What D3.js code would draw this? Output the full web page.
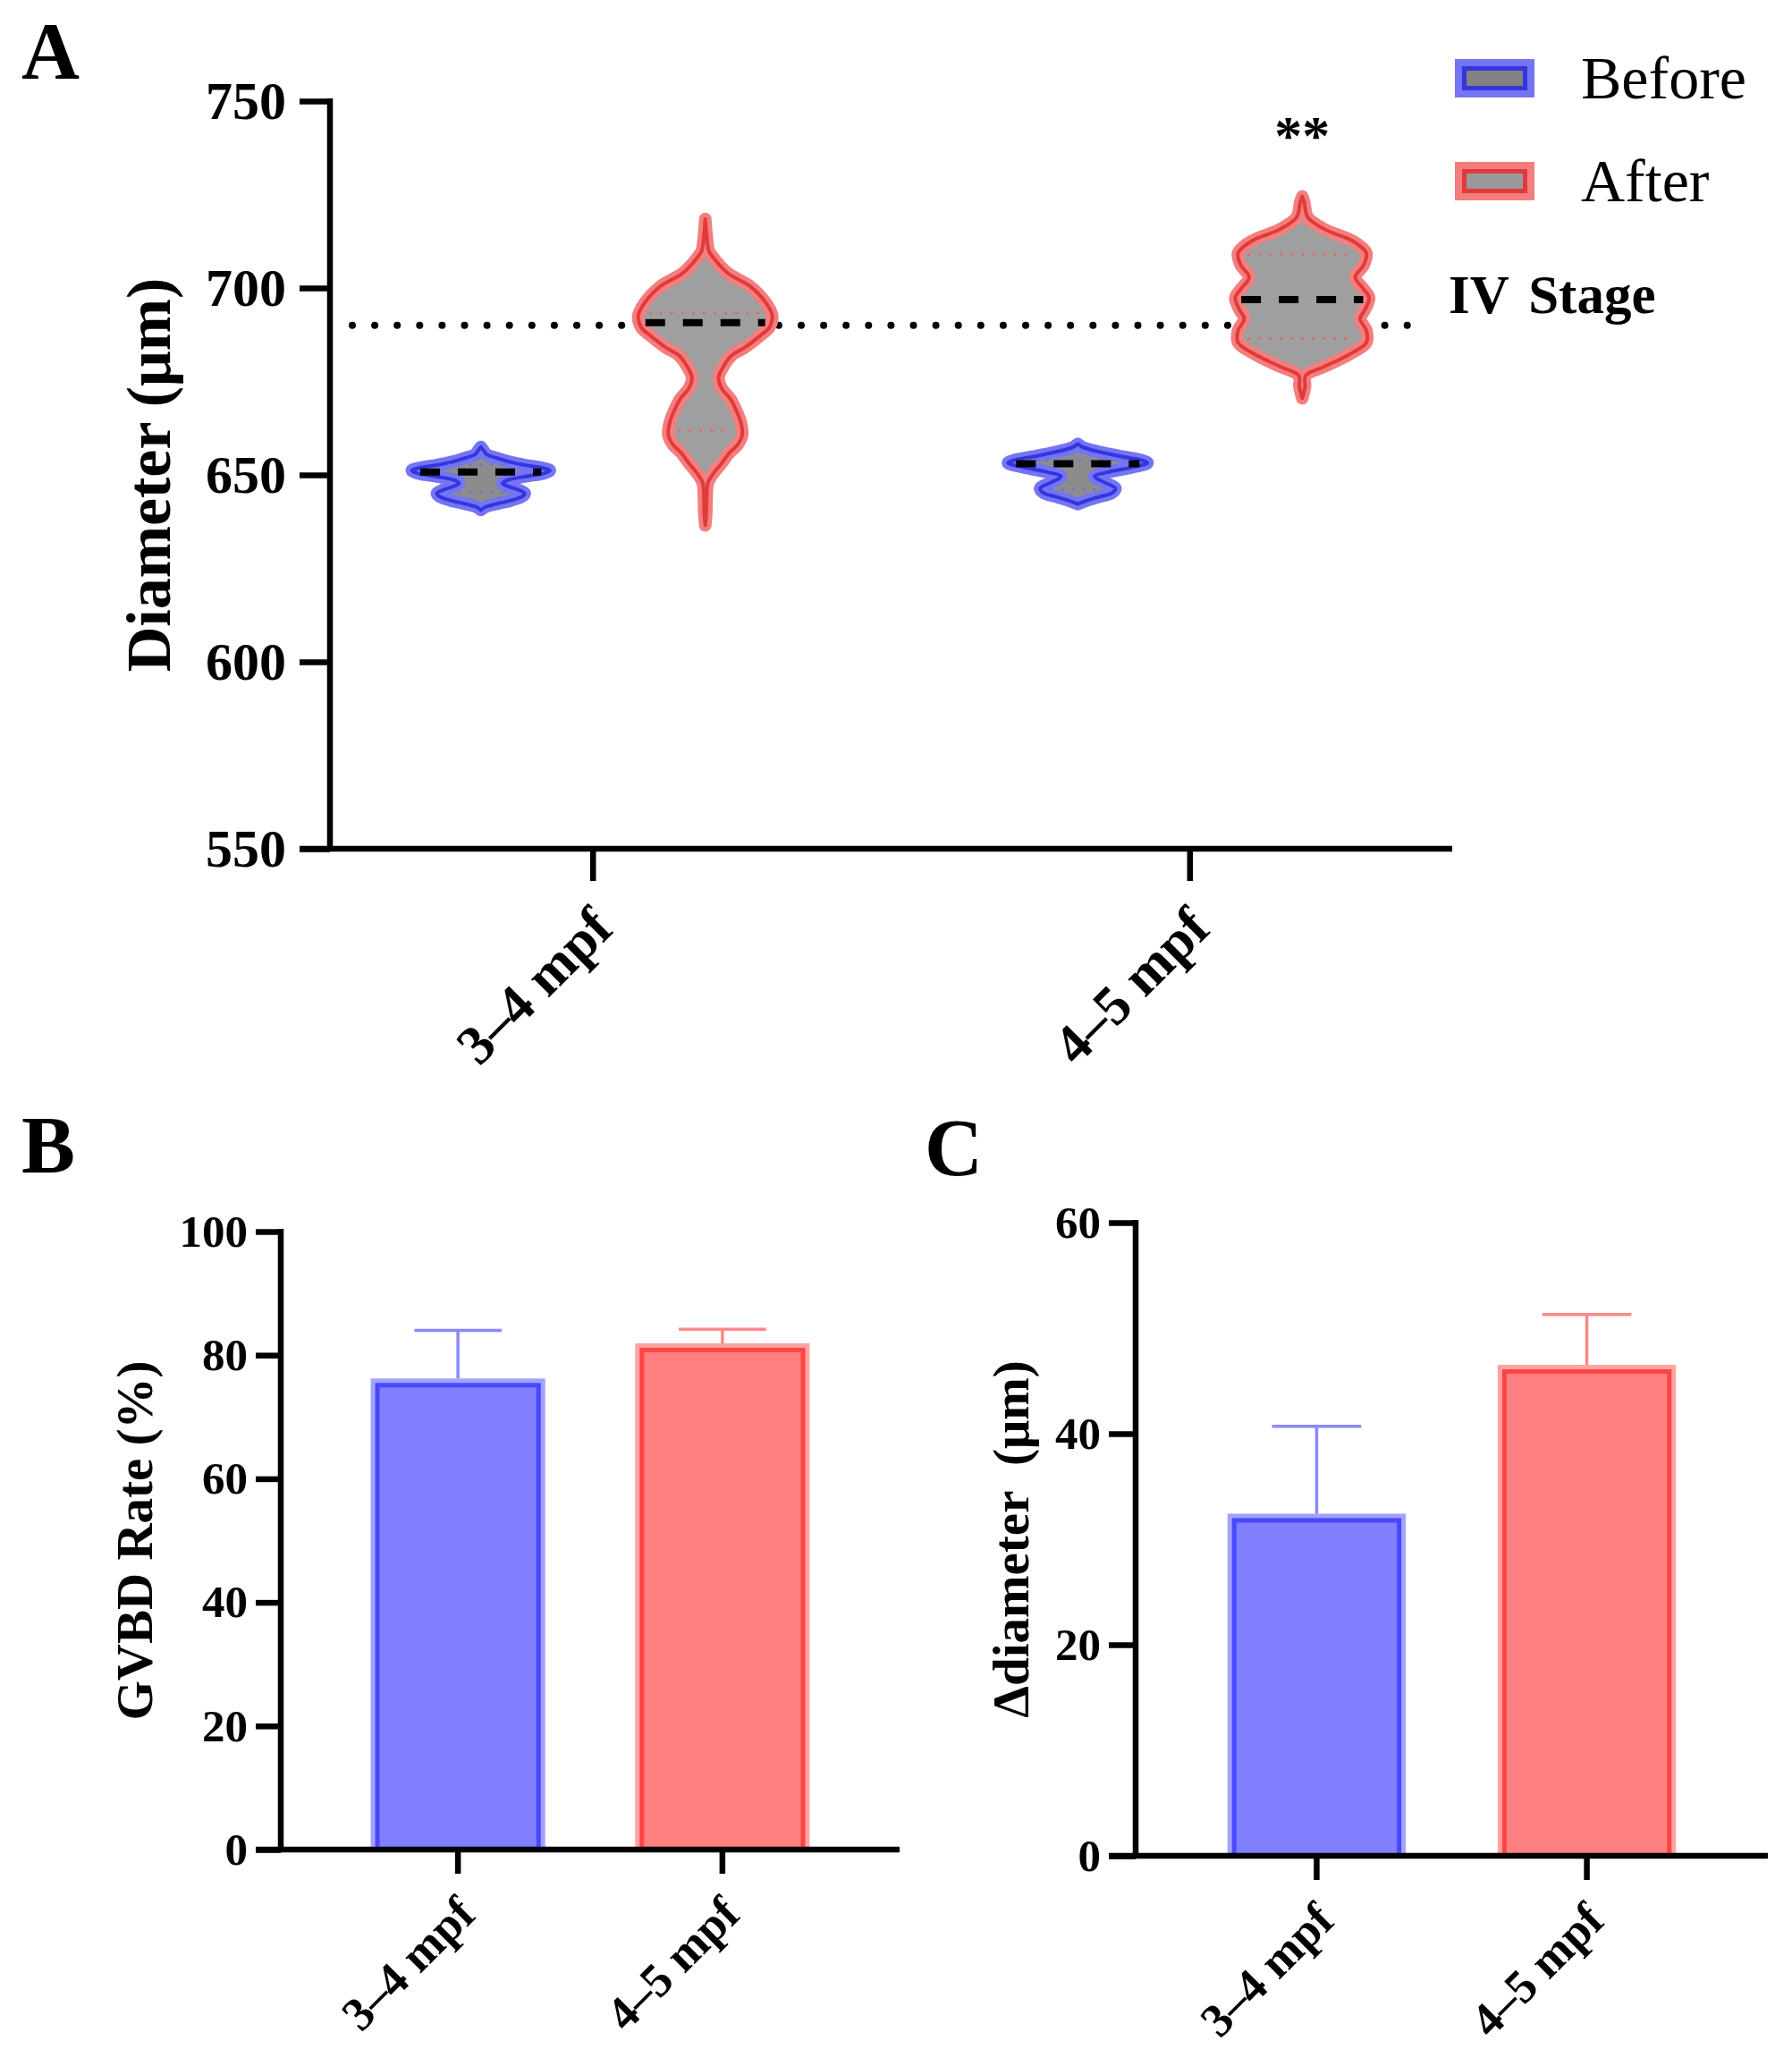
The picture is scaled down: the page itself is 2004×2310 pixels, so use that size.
<!DOCTYPE html>
<html>
<head>
<meta charset="utf-8">
<script src="https://cdn.jsdelivr.net/npm/d3@7"></script>
<style>
  body { margin: 0; background: #fff; }
  text { font-family: "Liberation Serif", "Times New Roman", serif; }
</style>
</head>
<body>
<script>
// ---- data ----
const groups = ["3–4 mpf", "4–5 mpf"];
const phases = ["Before", "After"];

// panel A: diameter violins, profiles as [diameter µm, relative density]
const yTicksA = [550, 600, 650, 700, 750];
const stageLine = 690;
const before34 = [[657.5,0],[656.5,0.04],[655.5,0.08],[654.5,0.23],[653.5,0.41],[652.6,0.64],[651.8,0.90],[651.2,0.99],
  [650.4,0.90],[649.6,0.64],[648.6,0.38],[647.8,0.31],[647,0.38],[646,0.54],[645,0.63],[644.2,0.59],[643.2,0.44],
  [642.2,0.21],[641.4,0.06],[640.6,0]];
const after34 = [[718.5,0],[714,0.02],[710,0.05],[708.5,0.10],[704,0.32],[700.5,0.64],[696,0.87],[692.6,0.96],
  [689.5,0.92],[687,0.77],[684,0.56],[682,0.38],[679,0.26],[676,0.19],[673,0.24],[670.3,0.36],[667,0.45],[664,0.51],
  [660.7,0.53],[658,0.46],[656,0.35],[653,0.23],[651,0.14],[648,0.04],[644,0.02],[640,0.015],[636.5,0]];
const before45 = [[658.3,0],[657.5,0.06],[656.7,0.19],[655.1,0.58],[653.9,0.92],[653.2,1.0],[652,0.77],[650.8,0.45],
  [649.6,0.24],[648,0.38],[646.4,0.54],[645.2,0.49],[644,0.28],[642.8,0.08],[642.2,0]];
const after45 = [[724.5,0],[722.8,0.03],[718.9,0.08],[715.7,0.32],[712.5,0.73],[709.3,0.92],[706.1,0.88],[702.9,0.76],
  [699.7,0.88],[697.4,0.96],[694.2,0.90],[691.8,0.83],[688.6,0.92],[685.4,0.92],[682.2,0.67],[679,0.32],
  [676.6,0.05],[673.5,0.04],[670.5,0]];
// order: 3–4 Before, 3–4 After, 4–5 Before, 4–5 After
const violinMedian = [650.8, 690.7, 653.0, 696.9];
const violinQ1 = [645.2, 661.8, 646.2, 686.5];
const violinQ3 = [652.7, 693.3, 654.0, 708.9];

// panel B: GVBD rate
const yTicksB = [0, 20, 40, 60, 80, 100];
const gvbdMean = [75.5, 81.2];
const gvbdSd = [8.5, 3.0];

// panel C: delta diameter
const yTicksC = [0, 20, 40, 60];
const deltaMean = [32.0, 46.1];
const deltaSd = [8.7, 5.2];

// ---- styles ----
const violinStyle = {
  Before: { fill: "#8c8c8c", band: "#7474f4", line: "#3535dd", quart: "#6a6aff" },
  After:  { fill: "#9f9f9f", band: "#f47e7e", line: "#e03a3a", quart: "#f06060" }
};
const barStyle = [
  { band: "#a3a3ff", line: "#4848ff", fill: "#8080ff", err: "#8888ff" },
  { band: "#ffa3a3", line: "#ff4444", fill: "#ff8080", err: "#ff8888" }
];

const svg = d3.select("body").append("svg")
  .attr("width", 2004).attr("height", 2310);

function styleAxis(sel, size) {
  sel.select(".domain").remove();
  sel.selectAll(".tick line").attr("stroke", "#000").attr("stroke-width", 6.5);
  sel.selectAll(".tick text")
    .attr("fill", "#000")
    .style("font-size", size + "px")
    .style("font-weight", "bold");
}

function rotateLabels(sel, dx, dy, size) {
  sel.selectAll(".tick text")
    .attr("x", 0).attr("y", 0).attr("dy", 0)
    .attr("text-anchor", "end")
    .attr("transform", "translate(" + dx + "," + dy + ") rotate(-45)")
    .style("font-size", size + "px");
}

// ================= Panel A =================
const yA = d3.scaleLinear().domain([550, 750]).range([949, 113]);
const xA = d3.scalePoint().domain(groups).range([369, 1624]).padding(0.44);
const subA = d3.scalePoint().domain(phases).range([-125, 126]);
const wA = d3.scaleLinear().domain([0, 1]).range([0, 78]);

const gA = svg.append("g");

gA.append("text").attr("x", 24).attr("y", 88)
  .style("font-size", "90px").style("font-weight", "bold").text("A");

// stage reference line (behind the violins)
gA.append("line")
  .attr("x1", 394).attr("x2", 1598)
  .attr("y1", yA(stageLine)).attr("y2", yA(stageLine))
  .attr("stroke", "#000").attr("stroke-width", 8)
  .attr("stroke-linecap", "round")
  .attr("stroke-dasharray", "0 25.1");

gA.append("text")
  .attr("x", 1620).attr("y", 350)
  .style("font-size", "61px").style("font-weight", "bold")
  .style("white-space", "pre")
  .attr("word-spacing", -4)
  .text("IV  Stage");

const profiles = [before34, after34, before45, after45];
const violins = profiles.map((p, i) => ({
  group: groups[Math.floor(i / 2)],
  phase: phases[i % 2],
  profile: p,
  median: violinMedian[i],
  q1: violinQ1[i],
  q3: violinQ3[i]
}));

const area = d3.area()
  .curve(d3.curveCatmullRom.alpha(0.5))
  .y(d => yA(d[0]))
  .x0(d => -wA(d[1]))
  .x1(d => wA(d[1]));

const vg = gA.selectAll(".violin").data(violins).enter().append("g")
  .attr("class", "violin")
  .attr("transform", d => "translate(" + (xA(d.group) + subA(d.phase)) + ",0)");

vg.append("path")
  .attr("d", d => area(d.profile))
  .attr("fill", d => violinStyle[d.phase].fill)
  .attr("stroke", d => violinStyle[d.phase].band)
  .attr("stroke-width", 14)
  .attr("stroke-linejoin", "round")
  .attr("stroke-linecap", "round");

vg.append("path")
  .attr("d", d => area(d.profile))
  .attr("fill", "none")
  .attr("stroke", d => violinStyle[d.phase].line)
  .attr("stroke-width", 4)
  .attr("stroke-linejoin", "round");

function halfWidthAt(d, v) {
  const dens = d3.scaleLinear()
    .domain(d.profile.map(p => p[0]))
    .range(d.profile.map(p => p[1]));
  return wA(dens(v));
}

vg.each(function(d) {
  const g = d3.select(this);
  [d.q1, d.q3].forEach(q => {
    const hw = Math.max(0, halfWidthAt(d, q) - 12);
    g.append("line")
      .attr("x1", -hw).attr("x2", hw)
      .attr("y1", yA(q)).attr("y2", yA(q))
      .attr("stroke", violinStyle[d.phase].quart)
      .attr("stroke-width", 3)
      .attr("stroke-linecap", "round")
      .attr("stroke-dasharray", "0 12");
  });
  const hm = halfWidthAt(d, d.median) - 6;
  g.append("line")
    .attr("x1", -hm).attr("x2", hm)
    .attr("y1", yA(d.median)).attr("y2", yA(d.median))
    .attr("stroke", "#000")
    .attr("stroke-width", 8)
    .attr("stroke-dasharray", "22 20");
});

gA.append("text")
  .attr("x", xA(groups[1]) + subA("After")).attr("y", 172)
  .attr("text-anchor", "middle")
  .style("font-size", "62px").style("font-weight", "bold")
  .text("**");

// axes A
gA.append("g").attr("transform", "translate(369,0)")
  .call(d3.axisLeft(yA).tickValues(yTicksA).tickSize(34).tickPadding(15).tickSizeOuter(0))
  .call(styleAxis, 60);
gA.append("g").attr("transform", "translate(0," + yA(550) + ")")
  .call(d3.axisBottom(xA).tickSize(36).tickSizeOuter(0))
  .call(styleAxis, 62)
  .call(rotateLabels, 25, 92, 62);
gA.append("path")
  .attr("d", "M369," + (yA(750) - 3) + "V" + yA(550) + "M" + (369 - 34) + "," + yA(550) + "H1624")
  .attr("fill", "none").attr("stroke", "#000").attr("stroke-width", 6.5);

gA.append("text")
  .attr("transform", "translate(190," + ((yA(550) + yA(750)) / 2) + ") rotate(-90)")
  .attr("text-anchor", "middle")
  .style("font-size", "70px").style("font-weight", "bold")
  .text("Diameter (μm)");

// legend
const legend = gA.selectAll(".legend").data(phases).enter().append("g")
  .attr("class", "legend")
  .attr("transform", (d, i) => "translate(1627," + (66 + i * 115) + ")");
legend.append("rect").attr("width", 89).attr("height", 43)
  .attr("fill", d => violinStyle[d].band);
legend.append("rect").attr("x", 8).attr("y", 8).attr("width", 73).attr("height", 27)
  .attr("fill", d => violinStyle[d].line);
legend.append("rect").attr("x", 13).attr("y", 13).attr("width", 63).attr("height", 17)
  .attr("fill", d => d === "Before" ? "#828282" : "#999999");
legend.append("text").attr("x", 141).attr("y", 44)
  .style("font-size", "68px")
  .text(d => d);

// ================= bar panels =================
function barPanel(cfg) {
  const g = svg.append("g");
  const y = d3.scaleLinear().domain(cfg.domain).range(cfg.yRange);
  const x = d3.scaleBand().domain(groups).range([cfg.axisX, cfg.axisEnd])
    .paddingInner(0.34).paddingOuter(0.34);
  const bw = x.bandwidth();
  const rows = groups.map((k, i) => ({ key: k, mean: cfg.means[i], sd: cfg.sds[i], st: barStyle[i] }));

  const bars = g.selectAll(".bar").data(rows).enter().append("g").attr("class", "bar");
  const top = d => y(d.mean) - 5;
  bars.append("rect").attr("x", d => x(d.key)).attr("y", top)
    .attr("width", bw).attr("height", d => y(0) - top(d))
    .attr("fill", d => d.st.band);
  bars.append("rect").attr("x", d => x(d.key) + 5).attr("y", d => top(d) + 5)
    .attr("width", bw - 10).attr("height", d => y(0) - top(d) - 5)
    .attr("fill", d => d.st.line);
  bars.append("rect").attr("x", d => x(d.key) + 10).attr("y", d => top(d) + 10)
    .attr("width", bw - 20).attr("height", d => y(0) - top(d) - 10)
    .attr("fill", d => d.st.fill);

  const cx = d => x(d.key) + bw / 2;
  bars.append("path")
    .attr("d", d => "M" + cx(d) + "," + top(d) + "V" + y(d.mean + d.sd) +
      "M" + (cx(d) - bw / 4) + "," + y(d.mean + d.sd) + "H" + (cx(d) + bw / 4))
    .attr("fill", "none").attr("stroke", d => d.st.err).attr("stroke-width", 3.5);

  g.append("g").attr("transform", "translate(" + cfg.axisX + ",0)")
    .call(d3.axisLeft(y).tickValues(cfg.ticks).tickSize(cfg.tickLen).tickPadding(9).tickSizeOuter(0))
    .call(styleAxis, 51);
  g.append("g").attr("transform", "translate(0," + y(0) + ")")
    .call(d3.axisBottom(x).tickSize(27).tickSizeOuter(0))
    .call(styleAxis, 53)
    .call(rotateLabels, 22, 75, 53);
  g.append("path")
    .attr("d", "M" + cfg.axisX + "," + (y(cfg.domain[1]) - 3) + "V" + y(0) +
      "M" + (cfg.axisX - cfg.tickLen) + "," + y(0) + "H" + cfg.axisEnd)
    .attr("fill", "none").attr("stroke", "#000").attr("stroke-width", 6.5);

  g.append("text")
    .attr("transform", "translate(" + cfg.labelX + "," + (y(cfg.domain[0]) + y(cfg.domain[1])) / 2 + ") rotate(-90)")
    .attr("text-anchor", "middle")
    .style("font-size", "57px").style("font-weight", "bold")
    .style("white-space", "pre")
    .text(cfg.label);

  g.append("text").attr("x", cfg.letterX).attr("y", cfg.letterY)
    .style("font-size", "90px").style("font-weight", "bold").text(cfg.letter);
}

barPanel({
  letter: "B", letterX: 24, letterY: 1311,
  domain: [0, 100], yRange: [2068, 1377], ticks: yTicksB,
  axisX: 314, axisEnd: 1006, tickLen: 28,
  means: gvbdMean, sds: gvbdSd,
  label: "GVBD Rate (%)", labelX: 170
});

barPanel({
  letter: "C", letterX: 1034, letterY: 1314,
  domain: [0, 60], yRange: [2075, 1367], ticks: yTicksC,
  axisX: 1270, axisEnd: 1977, tickLen: 30,
  means: deltaMean, sds: deltaSd,
  label: "Δdiameter  (μm)", labelX: 1150
});
</script>
</body>
</html>
